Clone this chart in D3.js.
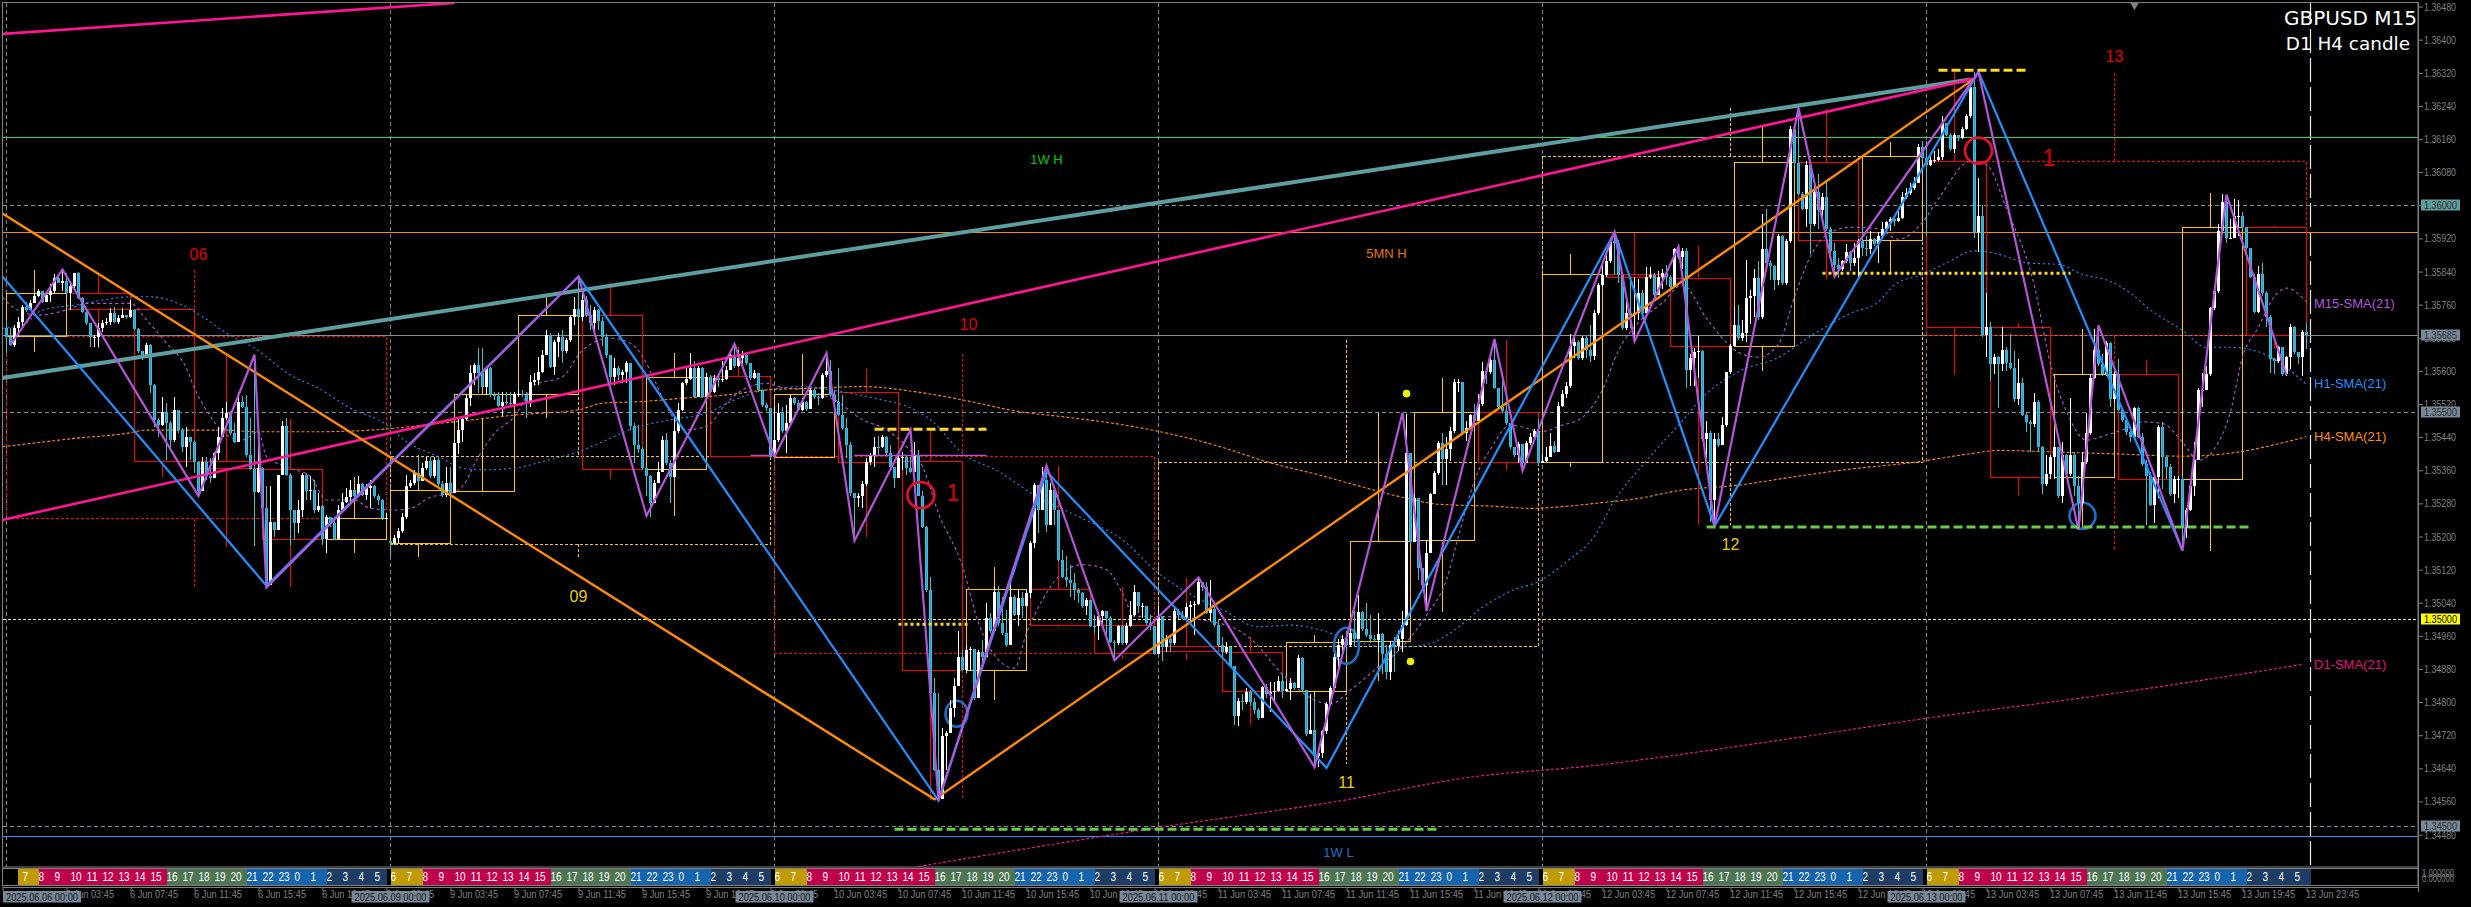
<!DOCTYPE html>
<html><head><meta charset="utf-8"><title>GBPUSD M15</title>
<script src="https://cdnjs.cloudflare.com/ajax/libs/d3/7.8.5/d3.min.js"></script>
<style>html,body{margin:0;padding:0;background:#000;overflow:hidden}svg{display:block}</style></head><body>
<script>
// All prices are in points above 1.30000 (6000 = 1.36000)
const priceBase = 1.3;
const tradingDays = ["6 Jun","9 Jun","10 Jun","11 Jun","12 Jun","13 Jun"];
const dayStamps = ["2025.06.06 00:00","2025.06.09 00:00","2025.06.10 00:00","2025.06.11 00:00","2025.06.12 00:00","2025.06.13 00:00"];
const tickTimes = ["03:45","07:45","11:45","15:45","19:45","23:45"];
const sessionHours = [6,7,8,9,10,11,12,13,14,15,16,17,18,19,20,21,22,23,0,1,2,3,4,5];
const priceTicks = [6480,6400,6320,6240,6160,6080,6000,5920,5840,5760,5680,5600,5520,5440,5360,5280,5200,5120,5040,4960,4880,4800,4720,4640,4560,4480];

const firstOpen = 5703, weekendOpen = 5190;
const close06 = [5681,5663,5703,5717,5755,5747,5763,5782,5792,5767,5783,5792,5824,5813,5816,5788,5805,5836,5775,5743,5715,5681,5681,5703,5715,5718,5741,5719,5727,5735,5730,5747,5701,5647,5631,5663,5566,5482,5470,5500,5475,5433,5506,5457,5417,5440,5429,5381,5309,5381,5345,5341,5401,5440,5486,5499,5449,5429,5526,5514,5397,5362,5307,5365,5268,5083,5234,5216,5349,5468,5349,5263,5232,5263,5349,5309,5313,5264,5274,5193,5248,5232,5193,5263,5284,5296,5313,5298,5327,5300,5317,5321,5298,5288,5244,5244];
const high06 = [5723,5703,5711,5731,5759,5767,5771,5788,5797,5789,5790,5810,5834,5832,5845,5836,5818,5837,5840,5779,5747,5715,5687,5715,5723,5727,5751,5755,5735,5751,5735,5771,5749,5703,5649,5667,5665,5569,5486,5538,5522,5478,5538,5506,5461,5465,5441,5433,5383,5393,5393,5389,5405,5465,5510,5526,5502,5474,5550,5540,5542,5486,5639,5457,5369,5321,5321,5236,5349,5478,5486,5353,5264,5288,5353,5353,5345,5337,5304,5276,5252,5248,5248,5276,5304,5317,5337,5313,5345,5330,5327,5337,5325,5303,5290,5256];
const low06 = [5643,5660,5657,5681,5703,5743,5746,5763,5779,5765,5767,5767,5788,5812,5792,5786,5747,5800,5773,5739,5711,5657,5657,5657,5695,5711,5711,5715,5713,5727,5725,5727,5699,5643,5626,5631,5546,5465,5441,5467,5385,5417,5429,5449,5405,5369,5385,5353,5300,5309,5337,5329,5341,5385,5441,5482,5445,5425,5429,5510,5393,5361,5176,5304,5248,5077,5099,5200,5216,5349,5345,5180,5192,5208,5248,5288,5288,5256,5260,5180,5160,5224,5192,5193,5260,5280,5280,5295,5296,5298,5288,5268,5292,5276,5240,5242];
const close09 = [5184,5196,5214,5247,5321,5330,5353,5333,5365,5383,5345,5385,5327,5300,5330,5304,5427,5457,5483,5534,5594,5614,5594,5562,5606,5542,5540,5516,5526,5522,5520,5544,5544,5542,5522,5572,5578,5598,5639,5687,5609,5671,5683,5647,5675,5730,5749,5731,5771,5735,5715,5747,5720,5683,5639,5586,5607,5590,5597,5619,5466,5421,5411,5365,5345,5282,5330,5357,5433,5377,5343,5454,5506,5570,5580,5607,5538,5607,5538,5586,5550,5582,5578,5580,5603,5639,5611,5631,5639,5619,5582,5594,5554,5518,5510,5393];
const high09 = [5188,5204,5220,5256,5349,5337,5361,5393,5377,5393,5393,5393,5393,5333,5369,5369,5433,5483,5490,5542,5614,5618,5655,5655,5610,5610,5550,5550,5550,5550,5550,5550,5554,5554,5550,5590,5594,5634,5651,5699,5691,5675,5691,5699,5679,5733,5779,5828,5800,5780,5760,5755,5750,5730,5690,5639,5631,5611,5603,5623,5620,5474,5470,5417,5365,5349,5337,5381,5442,5450,5385,5494,5522,5574,5611,5644,5625,5612,5609,5595,5590,5590,5588,5625,5611,5651,5665,5651,5647,5641,5620,5603,5582,5556,5522,5510];
const low09 = [5150,5180,5184,5209,5242,5317,5325,5329,5345,5361,5341,5341,5322,5296,5296,5298,5309,5399,5429,5482,5515,5566,5546,5558,5542,5538,5530,5514,5491,5518,5514,5514,5536,5536,5486,5514,5566,5566,5594,5639,5606,5590,5634,5618,5643,5671,5711,5725,5720,5730,5700,5695,5700,5660,5630,5566,5566,5578,5570,5570,5458,5377,5401,5361,5297,5248,5281,5329,5357,5373,5281,5341,5450,5502,5566,5578,5534,5537,5534,5537,5546,5546,5562,5574,5578,5601,5607,5609,5612,5615,5578,5580,5550,5514,5502,5389];
const close10 = [5433,5498,5454,5474,5534,5522,5506,5526,5508,5554,5538,5534,5590,5599,5542,5526,5494,5462,5421,5305,5293,5298,5327,5381,5397,5417,5416,5440,5401,5369,5341,5389,5393,5365,5357,5397,5298,5224,5071,4822,4637,4566,4717,4725,4785,4838,4910,4878,4926,4928,4810,4922,4910,5003,4971,5065,4991,4967,4938,5055,5011,5051,5031,5063,5184,5325,5264,5337,5228,5313,5264,5144,5102,5095,5087,5071,5063,5031,5047,4984,4983,5007,5019,5003,4946,4942,4983,4942,4983,5011,5066,5031,5031,4991,4983,4917];
const high10 = [5514,5522,5514,5518,5542,5538,5530,5534,5528,5558,5556,5546,5595,5643,5627,5554,5607,5542,5486,5429,5306,5306,5333,5389,5401,5440,5443,5446,5443,5421,5369,5397,5403,5397,5393,5429,5409,5309,5226,5103,4858,4822,4737,4729,4806,4858,4971,4926,4938,4934,4886,4926,4950,5039,5015,5080,5080,5055,5023,5087,5059,5071,5067,5071,5188,5329,5325,5369,5371,5329,5317,5264,5168,5152,5132,5112,5075,5067,5051,5047,5011,5011,5023,5021,5008,4950,4987,4987,4991,5043,5083,5067,5039,5033,5011,4983];
const low10 = [5392,5429,5450,5401,5470,5518,5502,5504,5504,5510,5532,5518,5532,5586,5538,5518,5490,5458,5389,5297,5192,5272,5268,5321,5373,5367,5397,5413,5397,5365,5317,5341,5361,5349,5353,5357,5297,5220,5067,4818,4633,4562,4612,4637,4725,4765,4838,4874,4870,4874,4806,4810,4894,4910,4967,4971,4983,4963,4934,4938,5007,4983,5003,5031,5051,5172,5208,5264,5212,5228,5228,5140,5099,5079,5055,5047,5039,5027,5011,4981,4967,4950,4987,4963,4942,4902,4938,4938,4938,4981,5007,5015,5003,4987,4975,4914];
const close11 = [5007,4934,4953,4943,5020,5010,5006,5029,5034,5037,5091,5077,5015,5025,4986,4939,4920,4934,4886,4767,4802,4800,4824,4800,4781,4762,4836,4819,4824,4827,4850,4827,4831,4846,4834,4907,4829,4724,4733,4671,4676,4729,4795,4834,4910,4939,4953,4939,4967,4953,5018,4977,4962,4953,4951,4964,4915,4872,4939,4936,4953,4986,5402,5187,5292,5125,5082,5161,5302,5354,5426,5387,5411,5454,5572,5574,5450,5461,5493,5478,5521,5600,5598,5626,5559,5512,5502,5473,5416,5397,5423,5378,5426,5440,5454,5378];
const high11 = [5033,5006,4962,4958,5029,5025,5020,5039,5044,5044,5101,5091,5091,5096,5029,5001,4958,4945,4936,4872,4809,4819,4834,4829,4809,4786,4840,4843,4848,4848,4862,4867,4848,4858,4848,4913,4910,4812,4819,4812,4681,4733,4800,4838,4915,4953,4962,4972,4977,5020,5058,5020,5039,5010,4962,5015,4967,4939,4948,4958,4972,5020,5497,5402,5302,5292,5125,5192,5306,5359,5431,5450,5440,5464,5581,5581,5574,5478,5497,5521,5545,5621,5607,5631,5677,5559,5583,5521,5473,5416,5429,5421,5431,5450,5459,5483];
const low11 = [4917,4900,4920,4920,4939,5001,5001,5001,4986,4963,5034,5068,5012,4996,4982,4934,4910,4915,4884,4745,4743,4781,4795,4791,4771,4757,4762,4810,4776,4800,4824,4810,4824,4805,4829,4834,4826,4719,4722,4647,4643,4666,4724,4791,4829,4867,4915,4915,4934,4934,4967,4972,4958,4943,4945,4920,4867,4857,4853,4872,4924,4920,4984,5182,5187,5096,5072,5020,5161,5302,5349,5325,5325,5383,5450,5550,5445,5430,5459,5473,5493,5516,5569,5593,5557,5507,5499,5469,5411,5392,5378,5354,5378,5421,5430,5373];
const close12 = [5383,5392,5419,5404,5516,5545,5564,5660,5669,5631,5679,5650,5636,5741,5808,5832,5865,5913,5908,5832,5703,5741,5736,5741,5789,5741,5827,5832,5784,5827,5836,5827,5803,5894,5875,5889,5602,5631,5645,5647,5435,5450,5287,5435,5421,5469,5598,5660,5712,5679,5691,5775,5780,5824,5731,5894,5861,5853,5820,5926,5812,5914,6184,6102,6028,5992,6098,5955,6033,5988,6020,5943,5890,5857,5845,5865,5886,5861,5873,5914,5898,5894,5918,5906,5926,5943,5959,5967,5961,5969,6020,6029,6042,6055,6140,6114];
const high12 = [5399,5416,5450,5430,5526,5555,5574,5688,5684,5674,5684,5684,5712,5746,5812,5860,5889,5922,5935,5917,5836,5784,5822,5827,5822,5795,5851,5851,5836,5841,5846,5855,5832,5898,5903,5898,5898,5641,5655,5684,5650,5478,5454,5450,5450,5488,5598,5664,5755,5760,5722,5869,5796,5845,5865,5978,5992,5869,5857,5931,5928,5918,6192,6188,6237,6033,6108,6098,6057,6075,6029,6061,5947,5910,5873,5869,5906,5890,5910,5918,5951,5926,5939,5922,5935,5959,5963,5971,5971,5992,6033,6041,6053,6069,6147,6155];
const low12 = [5378,5380,5392,5402,5421,5512,5535,5559,5631,5626,5626,5631,5621,5626,5736,5803,5827,5860,5832,5812,5698,5698,5703,5671,5722,5726,5784,5822,5779,5784,5798,5808,5798,5803,5870,5846,5559,5564,5564,5583,5430,5364,5235,5235,5416,5421,5464,5593,5660,5674,5673,5669,5714,5731,5722,5726,5857,5820,5796,5808,5808,5808,5910,6098,6024,5988,5947,5882,5951,5943,5967,5939,5869,5828,5824,5841,5861,5841,5853,5828,5877,5877,5882,5902,5861,5922,5935,5939,5951,5959,5967,6016,6024,6037,6053,6110];
const close13 = [6098,6110,6110,6116,6200,6171,6137,6170,6162,6184,6216,6286,5935,5975,5686,5706,5616,5633,5616,5651,5620,5608,5531,5571,5494,5477,5471,5526,5416,5326,5351,5392,5416,5298,5396,5351,5396,5322,5281,5380,5449,5584,5650,5616,5592,5667,5531,5592,5506,5481,5453,5441,5510,5441,5375,5347,5277,5343,5465,5392,5367,5302,5339,5340,5220,5265,5322,5384,5555,5555,5592,5751,5792,5937,6008,5920,5922,5974,5975,5947,5898,5828,5743,5833,5788,5731,5628,5624,5657,5592,5633,5706,5645,5633,5694,5686];
const high13 = [6155,6118,6131,6135,6216,6200,6175,6175,6167,6188,6220,6294,6322,6065,6000,5788,5718,5641,5637,5706,5657,5690,5649,5628,5584,5498,5481,5547,5530,5418,5396,5396,5457,5416,5428,5400,5535,5404,5347,5404,5498,5592,5702,5710,5641,5673,5669,5600,5628,5510,5486,5461,5514,5514,5449,5384,5355,5347,5469,5477,5396,5375,5347,5347,5347,5269,5326,5428,5559,5596,5612,5755,5796,5955,6028,6024,5967,6015,6012,5984,5947,5898,5833,5853,5861,5792,5735,5632,5661,5657,5637,5714,5708,5645,5698,5716];
const low13 = [5926,6096,6102,6108,6110,6167,6131,6127,6155,6159,6181,6212,5922,5886,5682,5633,5575,5592,5510,5600,5600,5604,5526,5518,5490,5453,5404,5465,5404,5302,5322,5339,5339,5294,5281,5343,5347,5298,5216,5277,5375,5445,5580,5612,5588,5588,5514,5526,5502,5477,5445,5428,5437,5437,5371,5228,5273,5233,5294,5314,5339,5298,5281,5294,5167,5196,5261,5298,5384,5514,5555,5588,5747,5788,5931,5910,5918,5922,5926,5943,5894,5824,5739,5739,5780,5706,5596,5592,5620,5588,5588,5604,5641,5616,5588,5653];

// H4 candles (16 bars each)
const h4Open  = [5684,5788,5749,5382,5362,5193,5182,5311,5544,5735,5363,5586,5393,5549,5381,4876,5071,4985,4934,4920,4826,4945,5189,5499,5378,5832,5824,5661,6104,5916,6106,5705,5343,5592,5340,5947];
const h4Close = [5788,5749,5382,5365,5193,5244,5311,5544,5734,5363,5585,5393,5544,5381,4876,5071,4985,4916,4921,4826,4945,5187,5499,5378,5832,5824,5660,6104,5916,6118,5705,5343,5592,5340,5947,5686];
const h4High  = [5845,5836,5749,5639,5486,5345,5397,5655,5781,5813,5644,5659,5643,5607,5458,5128,5371,5079,5101,4958,4964,5499,5583,5677,5884,5935,5903,6194,6235,6155,6322,5718,5702,5628,6031,5951];
const h4Low   = [5647,5657,5346,5176,5079,5161,5152,5488,5488,5341,5250,5393,5393,5200,4564,4806,4983,4906,4903,4745,4666,4853,5020,5362,5370,5671,5230,5600,5822,5841,5592,5302,5220,5228,5166,5653];
// D1 candles (96 bars each)
const d1Open  = [5684,5182,5393,4934,5378,6106];
const d1Close = [5244,5394,4916,5378,6118,5686];
const d1High  = [5845,5828,5643,5677,6236,6320];
const d1Low   = [5079,5150,4564,4652,5228,5171];

// Zigzags: bar index / price
const zigM15Bars = [1,14,48,62,65,143,160,182,192,205,212,226,233,260,277,298,327,349,355,372,379,402,407,418,427,448,457,493,518,523,544,555,570];
const zigM15Vals = [5663,5845,5298,5639,5077,5828,5250,5665,5393,5643,5190,5458,4562,5371,4901,5101,4643,5499,5020,5677,5359,5935,5671,5900,5225,6235,5828,6322,5216,5710,5166,6026,5590];
const zigH1Bars = [-1,65,143,233,260,330,402,427,493,544];
const zigH1Vals = [5828,5081,5828,4562,5357,4641,5935,5225,6322,5166];
const zigH4Bars = [-1,232,492];
const zigH4Vals = [5980,4565,6306];
// Trend lines
const pinkUpperBars = [-1,112], pinkUpperVals = [6414,6489];
const pinkLowerBars = [-1,492], pinkLowerVals = [5240,6306];
const tealBars = [-1,491], tealVals = [5583,6304];

// Moving averages
const smaM15Bars = [-1,2,8,15,20,26,31,35,40,45,47,51,55,59,63,65,71,76,80,87,91,97,101,106,111,114,118,122,127,132,139,144,151,156,159,162,165,170,175,180,184,190,193,199,207,214,220,225,229,233,239,243,248,252,255,259,263,269,275,279,282,288,305,311,319,327,331,336,342,349,355,360,363,367,371,376,384,389,394,399,403,408,414,419,425,430,433,438,443,447,451,456,461,468,473,479,483,491,495,500,507,511,515,520,525,530,534,539,544,548,552,556,559,563,567,570,575];
const smaM15Vals = [5778,5751,5735,5747,5763,5763,5763,5723,5667,5606,5558,5490,5445,5433,5453,5393,5365,5345,5288,5288,5268,5264,5268,5295,5304,5321,5393,5449,5490,5566,5586,5650,5679,5667,5635,5578,5514,5458,5466,5522,5554,5570,5562,5554,5530,5482,5458,5417,5369,5256,5128,4991,4902,4882,4967,5047,5103,5132,5120,5063,5007,5007,4986,4953,4867,4805,4795,4829,4877,4934,5010,5096,5201,5335,5411,5469,5454,5469,5488,5555,5650,5717,5765,5808,5727,5669,5645,5633,5665,5779,5877,5935,5947,5943,5918,5959,6016,6106,6098,5992,5804,5616,5502,5433,5445,5461,5477,5473,5428,5384,5412,5502,5633,5706,5780,5800,5767];
const smaH1Bars = [-1,4,9,17,24,31,36,43,49,55,62,71,78,86,95,100,108,114,119,127,134,143,149,157,166,175,182,188,193,199,206,217,227,231,239,248,257,268,279,288,297,304,313,321,327,336,344,350,355,361,369,376,384,390,397,402,410,418,425,433,443,452,461,468,472,479,485,492,498,505,513,519,526,531,536,544,550,556,562,567,575];
const smaH1Vals = [5703,5711,5747,5759,5771,5779,5779,5763,5731,5691,5655,5590,5558,5510,5470,5429,5393,5365,5361,5365,5381,5405,5429,5462,5482,5498,5530,5550,5558,5562,5554,5534,5506,5482,5401,5357,5300,5248,5192,5111,5055,5023,4982,4986,4978,4950,4934,4934,4939,4967,5029,5068,5096,5139,5201,5287,5383,5469,5545,5598,5633,5690,5739,5767,5808,5833,5861,5890,5882,5861,5857,5833,5816,5788,5747,5698,5657,5657,5649,5628,5567];
const smaH4Bars = [-1,8,17,30,35,54,63,77,91,109,128,143,149,159,169,180,190,201,214,227,239,253,267,279,288,302,316,328,337,348,358,372,381,390,399,408,418,433,446,461,476,491,498,512,526,544,558,568,575];
const smaH4Vals = [5417,5427,5437,5449,5457,5457,5453,5453,5457,5474,5494,5506,5522,5526,5534,5542,5554,5558,5562,5550,5530,5502,5486,5470,5454,5421,5378,5349,5325,5297,5278,5273,5268,5273,5282,5292,5311,5324,5343,5363,5378,5400,5408,5404,5400,5394,5404,5424,5441];
const smaD1Bars = [228,290,335,364,398,444,480,524,574];
const smaD1Vals = [4403,4500,4564,4616,4648,4709,4761,4817,4891];

// Horizontal levels
const levelGreen = 6164, levelOrange = 5935, levelLast = 5686, levelBlue = 4476, levelRound1 = 6000, levelRound2 = 5500, levelRound3 = 5000, levelRound4 = 4500;
const tagValues = [6000,5686,5500,5000,4500];
const tagLabels = ["1.36000","1.35685","1.35500","1.35000","1.34500"];

// Marked swing levels [fromBar,toBar,price]
const dashYellow = [[217,245,5459],[483,505,6326]];
const dotYellow = [[223,241,4988],[454,516,5836]];
const dashGreen = [[222,358,4493],[425,561,5223]];
const thinPurple = [[186,192,5396],[212,245,5396]];

// Circles [bar, price]
const redCircles = [[228.6,5300],[493,6132]];
const blueCircles = [[237.5,4772],[335,4936],[519,5250]];
const dotMarks = [[350,5545],[351,4898]];

// Text notes
const noteTexts = ["06","10","09","11","12","13","1W H","5MN H","1W L","1","1"];
const noteBars = [48,240.5,143,335,431,527,260,345,333,236.6,510.6];
const noteVals = [5882,5713,5056,4607,5182,6360,6112,5885,4438,5305,6114];
const noteKinds = ["r","r","y","y","y","r","g","o","b","R","R"];
const smaLabels = ["M15-SMA(21)","H1-SMA(21)","H4-SMA(21)","D1-SMA(21)"];
const smaLabelVals = [5764,5571,5441,4892];

const W=2471,H=907, RIGHT=2418, BOTTOM=867;
const x=d3.scaleLinear().domain([0,575]).range([6.5,2306.5]);
const y=d3.scaleLinear().domain([4500,6000]).range([826.3,205.3]);
const yc=v=>Math.round(y(v)-0.5)+0.5;
const GREY="#808080", UP="#ffffff", BEAR="#38c6cc", BEARC="#2a97f0", RED="#ff0000", YEL="#ffc800", PURPLE="#b455d8", BLUE="#1e90ff", ORANGE="#ff8c00", PINK="#ff1493", TEAL="#5f9ea0";
const sans="'Liberation Sans',Arial,sans-serif";

const svg=d3.select("body").append("svg").attr("width",W).attr("height",H).style("background","#000");
svg.append("defs").append("clipPath").attr("id","plot").append("rect").attr("x",3).attr("y",3).attr("width",RIGHT-3).attr("height",BOTTOM-3);
const plot=svg.append("g").attr("clip-path","url(#plot)");
const gLines=plot.append("g"), gBoxes=plot.append("g").attr("shape-rendering","crispEdges");

// day separators
gLines.selectAll("line.sep").data(d3.range(6)).join("line").attr("class","sep")
 .attr("x1",d=>x(d*96)).attr("x2",d=>x(d*96)).attr("y1",3).attr("y2",BOTTOM)
 .attr("stroke",GREY).attr("stroke-dasharray","4,3").attr("shape-rendering","crispEdges");
gLines.append("line").attr("x1",2310.5).attr("x2",2310.5).attr("y1",0).attr("y2",BOTTOM).attr("stroke","#e8e8e8").attr("stroke-width",1.2).attr("stroke-dasharray","24,5");

function hline(v,col,dash,sw){gLines.append("line").attr("x1",3).attr("x2",RIGHT).attr("y1",yc(v)).attr("y2",yc(v)).attr("stroke",col).attr("stroke-width",sw||1).attr("stroke-dasharray",dash||null).attr("shape-rendering","crispEdges");}
hline(levelRound1,TEAL,"4,3");hline(levelRound2,"#7f8fa6","4,3");hline(levelRound4,"#7f8fa6","4,3");
hline(levelRound3,"#ffff33","3,2");
hline(levelLast,"#8a8f96");hline(levelGreen,"#33dd33");hline(levelOrange,ORANGE);hline(levelBlue,BLUE);

// D1 candle frames
d1Open.forEach((o,k)=>{
 const c=d1Close[k], col=c>=o?YEL:RED, a=x(k*96), b=x(k*96+95), w=x(k*96+47);
 const g=gBoxes.append("g").attr("stroke",col).attr("fill","none").attr("stroke-dasharray","3,2");
 g.append("rect").attr("x",a).attr("y",yc(Math.max(o,c))).attr("width",b-a).attr("height",Math.abs(y(o)-y(c)));
 g.append("line").attr("x1",w).attr("x2",w).attr("y1",yc(d1High[k])).attr("y2",yc(Math.max(o,c)));
 g.append("line").attr("x1",w).attr("x2",w).attr("y1",yc(Math.min(o,c))).attr("y2",yc(d1Low[k]));
});
// H4 candle frames
h4Open.forEach((o,k)=>{
 const c=h4Close[k], col=c>=o?YEL:RED, a=x(k*16), b=x(k*16+15), w=x(k*16+7);
 const g=gBoxes.append("g").attr("stroke",col).attr("fill","none");
 g.append("rect").attr("x",a).attr("y",yc(Math.max(o,c))).attr("width",b-a).attr("height",Math.abs(Math.round(y(o))-Math.round(y(c))));
 g.append("line").attr("x1",w).attr("x2",w).attr("y1",yc(h4High[k])).attr("y2",yc(Math.max(o,c)));
 g.append("line").attr("x1",w).attr("x2",w).attr("y1",yc(Math.min(o,c))).attr("y2",yc(h4Low[k]));
});

// moving averages
const lineOf=(bars,vals,curve)=>d3.line().x((d,i)=>x(bars[i])).y((d,i)=>y(vals[i])).curve(curve||d3.curveLinear)(vals);
[[smaM15Bars,smaM15Vals,PURPLE,"3,3"],[smaH1Bars,smaH1Vals,BLUE,"2,3"],[smaH4Bars,smaH4Vals,ORANGE,"3,2"],[smaD1Bars,smaD1Vals,PINK,"3,2"]].forEach(s=>{
 plot.append("path").attr("d",lineOf(s[0],s[1],d3.curveMonotoneX)).attr("fill","none").attr("stroke",s[2]).attr("stroke-width",1.1).attr("stroke-dasharray",s[3]);
});

// blue circles sit beneath the candles
blueCircles.forEach(c=>{
 plot.append("ellipse").attr("cx",x(c[0])).attr("cy",y(c[1])).attr("rx",c[0]===335?12.5:(c[0]===519?13:11)).attr("ry",c[0]===335?18:13).attr("fill","none").attr("stroke","#1f6fc8").attr("stroke-width",2.6);
});

// candles
const bars=[];
[[close06,high06,low06],[close09,high09,low09],[close10,high10,low10],[close11,high11,low11],[close12,high12,low12],[close13,high13,low13]].forEach((d,di)=>{
 d[0].forEach((c,j)=>{
  const i=di*96+j;
  const prev=bars.length?bars[bars.length-1].c:firstOpen;
  const o=i===96?weekendOpen:prev;
  bars.push({i,o,c,h:Math.max(d[1][j],o,c),l:Math.min(d[2][j],o,c)});
 });
});
const gc=plot.append("g").attr("shape-rendering","crispEdges");
gc.selectAll("line.w").data(bars).join("line").attr("class","w")
 .attr("x1",d=>x(d.i)).attr("x2",d=>x(d.i)).attr("y1",d=>y(d.h)).attr("y2",d=>y(d.l))
 .attr("stroke",d=>d.c>=d.o?UP:BEAR);
gc.selectAll("rect.b").data(bars).join("rect").attr("class","b")
 .attr("x",d=>x(d.i)-1.5).attr("width",3)
 .attr("y",d=>y(Math.max(d.o,d.c))).attr("height",d=>Math.max(1,Math.abs(y(d.o)-y(d.c))))
 .attr("fill",d=>d.c>=d.o?UP:BEAR);
gc.selectAll("line.m").data(bars.filter(d=>d.c<d.o)).join("line").attr("class","m")
 .attr("x1",d=>x(d.i)).attr("x2",d=>x(d.i)).attr("y1",d=>y(d.o)).attr("y2",d=>y(d.c)).attr("stroke",BEARC);

// trend lines and zigzags
[[tealBars,tealVals,TEAL,4],[pinkUpperBars,pinkUpperVals,PINK,2.6],[pinkLowerBars,pinkLowerVals,PINK,2.6],[zigH4Bars,zigH4Vals,ORANGE,2.4],[zigH1Bars,zigH1Vals,BLUE,2.2],[zigM15Bars,zigM15Vals,PURPLE,2.2]].forEach(s=>{
 plot.append("path").attr("d",lineOf(s[0],s[1])).attr("fill","none").attr("stroke",s[2]).attr("stroke-width",s[3]).attr("stroke-linejoin","miter");
});

// marked levels
function seg(list,col,sw,dash){list.forEach(s=>plot.append("line").attr("x1",x(s[0])).attr("x2",x(s[1])).attr("y1",y(s[2])).attr("y2",y(s[2])).attr("stroke",col).attr("stroke-width",sw).attr("stroke-dasharray",dash));}
seg(thinPurple,PURPLE,1.2,null);
seg(dashYellow,"#ffd820",3,"9,4");
seg(dotYellow,"#ffd820",3,"3,3");
seg(dashGreen,"#66cc44",3,"9,4");
redCircles.forEach(c=>plot.append("ellipse").attr("cx",x(c[0])).attr("cy",y(c[1])).attr("rx",13.5).attr("ry",13).attr("fill","none").attr("stroke","#e6102e").attr("stroke-width",2.6));
dotMarks.forEach(c=>plot.append("circle").attr("cx",x(c[0])).attr("cy",y(c[1])).attr("r",3.8).attr("fill","#eeee00"));

// notes
const noteColor={r:"#e00000",R:"#e00000",y:"#e8cc00",g:"#00cc00",o:"#e07800",b:"#1e72c8"};
noteTexts.forEach((t,i)=>{
 const k=noteKinds[i];
 svg.append("text").attr("x",x(noteBars[i])).attr("y",y(noteVals[i])).attr("dy",".36em").attr("text-anchor","middle")
  .attr("font-family",sans).attr("font-size",k==="R"?23:(t.length>2?13:16)).attr("fill",noteColor[k]).text(t);
});
smaLabels.forEach((t,i)=>svg.append("text").attr("x",2314).attr("y",y(smaLabelVals[i])).attr("dy",".36em").attr("font-family",sans).attr("font-size",13)
 .attr("fill",[PURPLE,BLUE,ORANGE,"#e5107f"][i]).text(t));
svg.append("text").attr("x",2417).attr("y",25).attr("text-anchor","end").attr("font-family","'DejaVu Sans',sans-serif").attr("font-size",20).attr("fill","#fff").text("GBPUSD M15");
svg.append("text").attr("x",2410).attr("y",50).attr("text-anchor","end").attr("font-family","'DejaVu Sans',sans-serif").attr("font-size",18.4).attr("fill","#fff").text("D1 H4 candle");
svg.append("path").attr("d",d3.symbol(d3.symbolTriangle,36)()).attr("transform","translate(2134.5,5) rotate(180)").attr("fill","#808080");

// frames
svg.append("rect").attr("x",2.5).attr("y",2.5).attr("width",RIGHT-2.5).attr("height",BOTTOM-2.5).attr("fill","none").attr("stroke",GREY);
svg.append("rect").attr("x",2.5).attr("y",868.5).attr("width",RIGHT-2.5).attr("height",17).attr("fill","none").attr("stroke",GREY);

// price axis
const yAxis=svg.append("g").attr("transform",`translate(${RIGHT},0)`).call(d3.axisRight(y).tickValues(priceTicks).tickSize(5).tickPadding(1).tickFormat(d=>(priceBase+d/1e5).toFixed(5)));
yAxis.select(".domain").remove();
yAxis.selectAll("line").attr("stroke",GREY);
yAxis.selectAll("text").attr("fill",GREY).attr("font-family",sans).attr("font-size",11).attr("textLength",32).attr("lengthAdjust","spacingAndGlyphs");
svg.append("line").attr("x1",RIGHT+.5).attr("x2",RIGHT+.5).attr("y1",2.5).attr("y2",892).attr("stroke",GREY);
const tagFill=[TEAL,"#778899","#778899","#ffff00","#778899"];
tagValues.forEach((v,i)=>{
 svg.append("rect").attr("x",2421).attr("y",Math.round(y(v))-5.5).attr("width",39).attr("height",11).attr("fill",tagFill[i]);
 svg.append("text").attr("x",2424).attr("y",y(v)).attr("dy",".36em").attr("font-family",sans).attr("font-size",11).attr("fill",i===3?"#000":"#2a2a2a").attr("textLength",33).attr("lengthAdjust","spacingAndGlyphs").text(tagLabels[i]);
});
svg.append("text").attr("x",2422).attr("y",877).attr("font-family",sans).attr("font-size",11).attr("fill",GREY).attr("textLength",32).attr("lengthAdjust","spacingAndGlyphs").text("1.000000");
svg.append("text").attr("x",2422).attr("y",882).attr("font-family",sans).attr("font-size",11).attr("fill",GREY).attr("textLength",32).attr("lengthAdjust","spacingAndGlyphs").text("0.000000");

// session strip
const sessionColor=h=>(h===6||h===7)?"#bf9b00":(h>=8&&h<=15)?"#c0004a":(h>=16&&h<=20)?"#4f7653":(h>=21||h<=1)?"#1464ae":"#1e3d66";
const cells=[];
tradingDays.forEach((d,di)=>sessionHours.forEach((h,hi)=>cells.push({h,bar:di*96+hi*4,first:di===0&&hi===0,dayEnd:hi===23&&di<5})));
const gs=svg.append("g");
gs.selectAll("rect").data(cells).join("rect")
 .attr("x",d=>d.first?18:x(d.bar)).attr("y",869).attr("height",16)
 .attr("width",d=>d.first?4.5:(d.dayEnd?12:16)).attr("fill",d=>sessionColor(d.h)).attr("shape-rendering","crispEdges");
gs.selectAll("text").data(cells.filter(d=>!d.first)).join("text")
 .attr("x",d=>x(d.bar)).attr("y",881).attr("font-family",sans).attr("font-size",12).attr("fill","#fff")
 .attr("textLength",d=>String(d.h).length*5.6).attr("lengthAdjust","spacingAndGlyphs").text(d=>d.h);

// time axis
const timeTicks=d3.range(36).map(k=>k*16+15);
const xAxis=svg.append("g").attr("transform","translate(0,887)").call(d3.axisBottom(x).tickValues(timeTicks).tickSize(4).tickPadding(1)
 .tickFormat(b=>tradingDays[Math.floor(b/96)]+" "+tickTimes[Math.floor((b%96)/16)]));
xAxis.select(".domain").remove();
xAxis.selectAll("line").attr("stroke",GREY);
xAxis.selectAll("text").attr("fill",GREY).attr("font-family",sans).attr("font-size",10.5).attr("text-anchor","start").attr("x",-1).attr("y",4).attr("dy","7.3").attr("lengthAdjust","spacingAndGlyphs").attr("textLength",function(){return this.textContent.length>11?53:48;});
svg.append("line").attr("x1",2.5).attr("x2",RIGHT).attr("y1",887.5).attr("y2",887.5).attr("stroke",GREY);
svg.append("line").attr("x1",x(-1)+.5).attr("x2",x(-1)+.5).attr("y1",887).attr("y2",891).attr("stroke",GREY);
dayStamps.forEach((t,i)=>{
 const cx=i===0?42:x(i*96);
 svg.append("rect").attr("x",cx-39).attr("y",891).attr("width",78).attr("height",11.5).attr("fill","#778899");
 svg.append("text").attr("x",cx).attr("y",900.5).attr("text-anchor","middle").attr("font-family",sans).attr("font-size",10.5).attr("fill","#111").attr("textLength",72).attr("lengthAdjust","spacingAndGlyphs").text(t);
});
</script></body></html>
